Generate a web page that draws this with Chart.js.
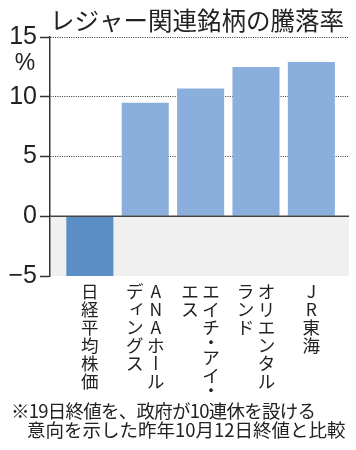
<!DOCTYPE html>
<html><head><meta charset="utf-8">
<script src="https://cdn.jsdelivr.net/npm/chart.js@4"></script>
<style>html,body{margin:0;padding:0;background:#fff}canvas{display:block}</style>
</head><body>
<canvas id="c" width="356" height="450"></canvas>
<script>
// ---- data ----
const titleText = "レジャー関連銘柄の騰落率";
const categories = [["日経平均株価"], ["ANAホール", "ディングス"], ["エイチ・アイ・", "エス"], ["オリエンタル", "ランド"], ["JR東海"]];
const values = [-5.0, 9.5, 10.7, 12.5, 12.9];
const yTicks = [-5, 0, 5, 10, 15];
const unitLabel = "%";
const noteLines = ["※19日終値を、政府が10連休を設ける", "意向を示した昨年10月12日終値と比較"];

const JP = "'Noto Sans CJK JP', 'Noto Sans', sans-serif";
const NUM = "'Liberation Sans', Arial, sans-serif";
const smallKana = "ァィゥェォッャュョヮぁぃぅぇぉっゃゅょ";

const decor = {
  id: 'decor',
  beforeDatasetsDraw(chart) {
    const {ctx, chartArea: a, scales: {y}} = chart;
    const y0 = y.getPixelForValue(0), yb = y.getPixelForValue(yTicks[0]);
    ctx.save();
    ctx.fillStyle = '#f0f0f0';
    ctx.fillRect(a.left + 1, y0, a.right - a.left - 1, yb - y0);
    ctx.restore();
  },
  afterDatasetsDraw(chart) {
    const {ctx, chartArea: a, scales: {y}} = chart;
    const y0 = y.getPixelForValue(0);
    ctx.save();
    ctx.strokeStyle = '#444';
    ctx.lineWidth = 1.5;
    ctx.beginPath(); ctx.moveTo(a.left, y0); ctx.lineTo(a.right, y0); ctx.stroke();
    ctx.restore();
  },
  afterDraw(chart) {
    const {ctx, scales: {x, y}} = chart;
    ctx.save();
    ctx.fillStyle = '#222';
    // title
    ctx.font = "24.5px " + JP;
    ctx.textAlign = 'left'; ctx.textBaseline = 'alphabetic';
    ctx.fillText(titleText, 50, 30);
    // unit
    ctx.font = "23px " + NUM;
    ctx.textAlign = 'center';
    ctx.fillText(unitLabel, 25, 70);
    // vertical category labels
    const fs = 17.5, cell = 18, dotCell = 12, colGap = 21, top = 282;
    ctx.font = fs + "px " + JP;
    ctx.textAlign = 'center'; ctx.textBaseline = 'middle';
    categories.forEach((cols, i) => {
      const cx = x.getPixelForValue(i + 1);
      const n = cols.length;
      cols.forEach((col, j) => {
        const colX = cx + ((n - 1) / 2 - j) * colGap;
        let yy = top;
        [...col].forEach((ch) => {
          const h = ch === '・' ? dotCell : cell;
          const cy = yy + h / 2;
          yy += h;
          ctx.save();
          ctx.translate(colX, cy);
          if (ch === 'ー') {
            ctx.rotate(Math.PI / 2);
          } else if (smallKana.includes(ch)) {
            ctx.translate(fs * 0.15, -fs * 0.18);
          }
          ctx.fillText(ch, 0, 0);
          ctx.restore();
        });
      });
    });
    // notes
    ctx.font = "18.5px " + JP;
    ctx.textAlign = 'left'; ctx.textBaseline = 'alphabetic';
    ctx.letterSpacing = '-0.75px';
    ctx.fillText(noteLines[0], 11, 418);
    ctx.letterSpacing = '0px';
    ctx.fillText(noteLines[1], 27, 437);
    ctx.restore();
  }
};

new Chart(document.getElementById('c'), {
  type: 'bar',
  data: {
    datasets: [{
      data: values.map((v, i) => ({x: i + 1, y: v})),
      backgroundColor: (c) => c.dataIndex === 0 ? '#5b8ec4' : '#8bafdc',
      borderWidth: 0,
      barPercentage: 0.85,
      categoryPercentage: 1.0
    }]
  },
  options: {
    responsive: false,
    animation: false,
    events: [],
    layout: { padding: { top: 37, right: 7, bottom: 174, left: 0 } },
    plugins: { legend: { display: false }, title: { display: false }, tooltip: { enabled: false } },
    scales: {
      x: {
        type: 'linear',
        display: false,
        offset: false,
        min: 0.28,
        max: 5.68,
        afterBuildTicks: (s) => { s.ticks = categories.map((_, i) => ({value: i + 1})); }
      },
      y: {
        type: 'linear',
        min: yTicks[0],
        max: yTicks[yTicks.length - 1],
        afterBuildTicks: (s) => { s.ticks = yTicks.map(v => ({value: v})); },
        afterFit: (s) => { s.width = 50; },
        ticks: {
          color: '#222',
          font: { family: NUM, size: 25 },
          padding: 3,
          callback: (v) => (v < 0 ? '−' + Math.abs(v) : String(v))
        },
        grid: {
          color: (c) => (c.tick && c.tick.value > 0 ? '#333' : 'rgba(0,0,0,0)'),
          lineWidth: 1,
          tickLength: 10,
          tickColor: '#333',
          tickWidth: 1.5,
          tickBorderDash: []
        },
        border: { display: true, color: '#333', width: 1.5, dash: [1, 1.3] }
      }
    }
  },
  plugins: [decor]
});
</script>
</body></html>
